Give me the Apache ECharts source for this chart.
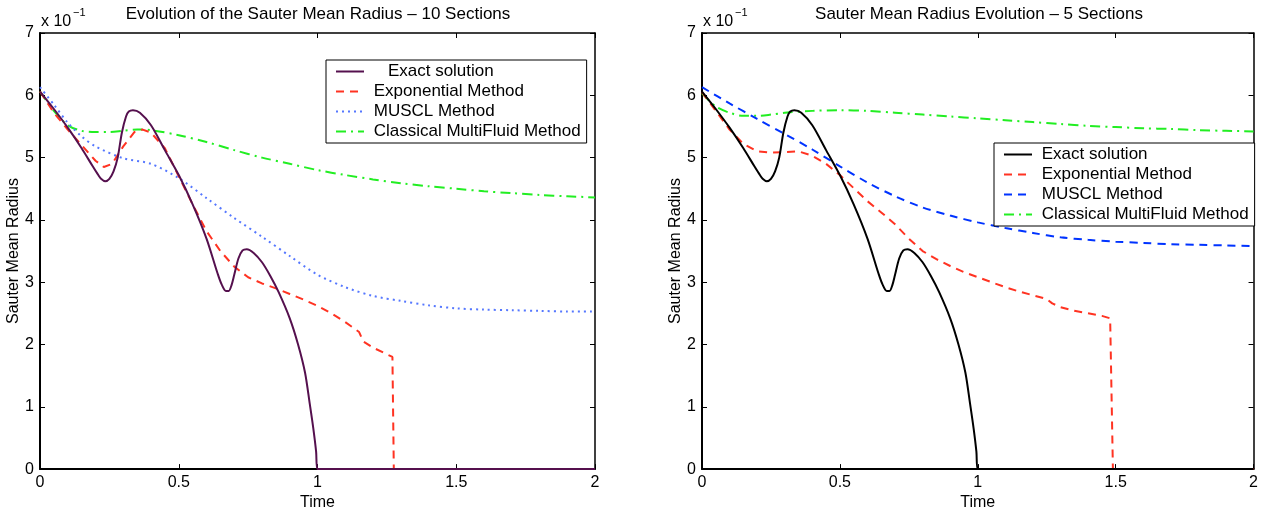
<!DOCTYPE html>
<html>
<head>
    <meta charset="utf-8">
    <title>Sauter Mean Radius</title>
    <script src="https://cdn.jsdelivr.net/npm/echarts@6/dist/echarts.min.js"></script>
    <style>
        html, body { margin: 0; padding: 0; background: #fff; }
    </style>
</head>
<body>
    <div id="container" style="width: 1261px;height:516px;"></div>
    <script type="text/javascript">
        // values are in units of 1e-1 (axis shows "x 10^-1")
        var titles = ['Evolution of the Sauter Mean Radius \u2013 10 Sections', 'Sauter Mean Radius Evolution \u2013 5 Sections'];
        var seriesNames = ['Exact solution', 'Exponential Method', 'MUSCL Method', 'Classical MultiFluid Method'];
        var xTicks = [0, 0.5, 1, 1.5, 2];
        var yTicks = [0, 1, 2, 3, 4, 5, 6, 7];

        // left panel - 10 sections
        var exact10 = [[0,6.06],[0.05,5.78],[0.1,5.48],[0.15,5.15],[0.19,4.86],[0.21,4.72],[0.22,4.66],[0.235,4.62],[0.25,4.66],[0.265,4.78],[0.28,5.0],[0.295,5.4],[0.31,5.66],[0.32,5.74],[0.335,5.76],[0.36,5.72],[0.4,5.52],[0.45,5.12],[0.5,4.72],[0.55,4.25],[0.6,3.7],[0.64,3.14],[0.655,2.96],[0.67,2.86],[0.68,2.86],[0.69,2.95],[0.7,3.12],[0.715,3.38],[0.73,3.51],[0.745,3.53],[0.77,3.47],[0.8,3.32],[0.83,3.1],[0.86,2.84],[0.9,2.42],[0.93,2.0],[0.955,1.55],[0.972,1.05],[0.985,0.65],[0.995,0.28],[1.0,0],[1.5,0],[2.0,0]];
        var expo10 = [[0,6.06],[0.05,5.72],[0.1,5.45],[0.15,5.2],[0.2,4.95],[0.23,4.85],[0.26,4.9],[0.3,5.18],[0.34,5.41],[0.37,5.45],[0.4,5.4],[0.45,5.15],[0.5,4.7],[0.55,4.25],[0.6,3.82],[0.65,3.5],[0.7,3.25],[0.75,3.08],[0.8,2.98],[0.85,2.9],[0.9,2.81],[0.95,2.72],[1.0,2.62],[1.05,2.5],[1.1,2.36],[1.15,2.2],[1.165,2.05],[1.2,1.95],[1.27,1.8],[1.275,0],[2.0,0]];
        var muscl10 = [[0,6.13],[0.05,5.85],[0.1,5.56],[0.15,5.34],[0.2,5.18],[0.3,4.99],[0.4,4.9],[0.5,4.67],[0.6,4.35],[0.7,4.03],[0.8,3.73],[0.9,3.42],[1.0,3.12],[1.1,2.92],[1.2,2.78],[1.3,2.7],[1.4,2.63],[1.5,2.58],[1.6,2.56],[1.7,2.55],[1.8,2.54],[1.9,2.53],[2.0,2.53]];
        var classic10 = [[0,6.06],[0.05,5.75],[0.1,5.52],[0.15,5.43],[0.2,5.41],[0.25,5.41],[0.3,5.43],[0.35,5.45],[0.4,5.44],[0.5,5.36],[0.6,5.25],[0.7,5.12],[0.8,5.0],[0.9,4.9],[1.0,4.8],[1.1,4.72],[1.2,4.65],[1.3,4.59],[1.4,4.54],[1.5,4.5],[1.6,4.46],[1.7,4.43],[1.8,4.4],[1.9,4.38],[2.0,4.36]];

        // right panel - 5 sections
        var exact5 = exact10;
        var expo5 = [[0,6.05],[0.05,5.75],[0.1,5.45],[0.15,5.22],[0.2,5.1],[0.25,5.08],[0.3,5.09],[0.35,5.1],[0.4,5.03],[0.45,4.9],[0.5,4.72],[0.55,4.51],[0.6,4.3],[0.65,4.12],[0.7,3.93],[0.75,3.7],[0.8,3.5],[0.85,3.37],[0.9,3.26],[0.95,3.16],[1.0,3.08],[1.05,3.0],[1.1,2.92],[1.15,2.85],[1.2,2.79],[1.25,2.73],[1.27,2.66],[1.3,2.6],[1.35,2.54],[1.4,2.5],[1.45,2.46],[1.48,2.42],[1.49,0],[2.0,0]];
        var muscl5 = [[0,6.13],[0.1,5.87],[0.2,5.62],[0.3,5.38],[0.4,5.13],[0.5,4.86],[0.6,4.6],[0.7,4.38],[0.8,4.2],[0.9,4.07],[1.0,3.96],[1.1,3.87],[1.2,3.79],[1.3,3.72],[1.4,3.68],[1.5,3.65],[1.6,3.63],[1.7,3.61],[1.8,3.6],[1.9,3.59],[2.0,3.58]];
        var classic5 = [[0,6.03],[0.05,5.82],[0.1,5.72],[0.15,5.67],[0.2,5.67],[0.25,5.69],[0.3,5.72],[0.4,5.75],[0.5,5.76],[0.6,5.75],[0.7,5.72],[0.8,5.69],[0.9,5.66],[1.0,5.63],[1.1,5.6],[1.2,5.57],[1.3,5.54],[1.4,5.51],[1.5,5.49],[1.6,5.47],[1.7,5.46],[1.8,5.44],[1.9,5.43],[2.0,5.42]];

        var FONT = '"Liberation Sans", Arial, Helvetica, sans-serif';
        var myChart = echarts.init(document.getElementById('container'));

        function xAx(grid, bottom) {
            return {
                type: 'value', gridIndex: grid, min: xTicks[0], max: xTicks[xTicks.length - 1], interval: 0.5,
                position: bottom ? 'bottom' : 'top',
                name: bottom ? 'Time' : '', nameLocation: 'middle', nameGap: 24,
                nameTextStyle: { color: '#000', fontSize: 16, fontFamily: FONT },
                axisLine: { show: true, onZero: false, lineStyle: { color: '#000', width: bottom ? 2 : 1.5 } },
                axisTick: { show: true, inside: true, length: 5, lineStyle: { color: '#000' } },
                axisLabel: { show: bottom, color: '#000', fontSize: 16, fontFamily: FONT, margin: 5 },
                splitLine: { show: false }
            };
        }
        function yAx(grid, left) {
            return {
                type: 'value', gridIndex: grid, min: yTicks[0], max: yTicks[yTicks.length - 1], interval: 1,
                position: left ? 'left' : 'right',
                name: left ? 'Sauter Mean Radius' : '', nameLocation: 'middle', nameGap: 13,
                nameTextStyle: { color: '#000', fontSize: 16, fontFamily: FONT },
                axisLine: { show: true, onZero: false, lineStyle: { color: '#000', width: left ? 2 : 1.5 } },
                axisTick: { show: true, inside: true, length: 5, lineStyle: { color: '#000' } },
                axisLabel: { show: left, color: '#000', fontSize: 16, fontFamily: FONT, margin: 6 },
                splitLine: { show: false }
            };
        }
        function line(name, grid, data, color, type, smooth) {
            return {
                name: name, type: 'line', xAxisIndex: grid * 2, yAxisIndex: grid * 2,
                data: data, showSymbol: false, symbol: 'none', smooth: smooth, animation: false,
                lineStyle: { color: color, width: 2, type: type }, itemStyle: { color: color }
            };
        }
        function legend(left, top, prefix, first) {
            return {
                orient: 'vertical', left: left, top: top,
                data: seriesNames.map(function (n) { return prefix + n; }),
                formatter: function (n) {
                    var s = n.replace(prefix, '');
                    return (s === seriesNames[0] && first) ? '    ' + s : ' ' + s;
                },
                itemWidth: 28, itemHeight: 14, itemGap: 3,
                padding: [3, 6, 3, 9],
                borderColor: '#000', borderWidth: 1, backgroundColor: '#fff',
                itemStyle: { opacity: 0 },
                textStyle: { color: '#000', fontSize: 17, lineHeight: 17, fontFamily: FONT },
                selectedMode: false
            };
        }

        var dashDot = [10, 5, 2, 5];
        var option = {
            animation: false,
            grid: [
                { left: 40, right: 666, top: 33, bottom: 45 },
                { left: 702, right: 5, top: 33, bottom: 45 }
            ],
            xAxis: [xAx(0, true), xAx(0, false), xAx(1, true), xAx(1, false)],
            yAxis: [yAx(0, true), yAx(0, false), yAx(1, true), yAx(1, false)],
            legend: [legend(326, 60, 'L:', true), legend(994, 143, 'R:', false)],
            series: [
                line('L:' + seriesNames[3], 0, classic10, '#22ee22', dashDot, 0.3),
                line('L:' + seriesNames[2], 0, muscl10, '#5577ff', [2, 4], 0.3),
                line('L:' + seriesNames[1], 0, expo10, '#ff3322', [8, 6], false),
                line('L:' + seriesNames[0], 0, exact10, '#55104e', 'solid', 0.3),
                line('R:' + seriesNames[3], 1, classic5, '#22ee22', dashDot, 0.3),
                line('R:' + seriesNames[2], 1, muscl5, '#0033ff', [8, 6], 0.3),
                line('R:' + seriesNames[1], 1, expo5, '#ff3322', [8, 6], false),
                line('R:' + seriesNames[0], 1, exact5, '#000000', 'solid', 0.3)
            ],
            graphic: [
                { type: 'text', x: 318, y: 14, style: { text: titles[0], fill: '#000', font: '17px ' + FONT, align: 'center', verticalAlign: 'middle' } },
                { type: 'text', x: 979, y: 14, style: { text: titles[1], fill: '#000', font: '17px ' + FONT, align: 'center', verticalAlign: 'middle' } },
                { type: 'text', x: 41, y: 22, style: { text: 'x 10', fill: '#000', font: '16px ' + FONT, align: 'left', verticalAlign: 'middle' } },
                { type: 'text', x: 73, y: 13, style: { text: '\u22121', fill: '#000', font: '11px ' + FONT, align: 'left', verticalAlign: 'middle' } },
                { type: 'text', x: 703, y: 22, style: { text: 'x 10', fill: '#000', font: '16px ' + FONT, align: 'left', verticalAlign: 'middle' } },
                { type: 'text', x: 735, y: 13, style: { text: '\u22121', fill: '#000', font: '11px ' + FONT, align: 'left', verticalAlign: 'middle' } }
            ]
        };
        myChart.setOption(option);
    </script>
</body>
</html>
